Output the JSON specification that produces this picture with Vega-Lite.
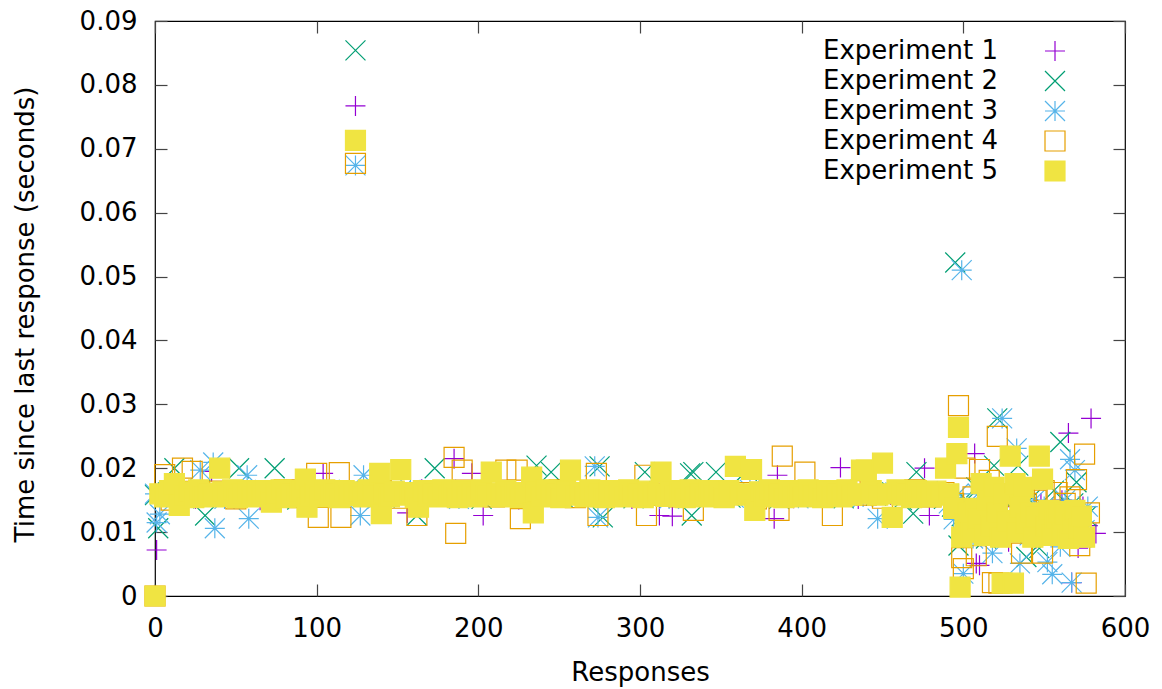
{
"$schema": "https://vega.github.io/schema/vega-lite/v6.json",
"width": 970, "height": 575,
"autosize": {"type": "none"},
"padding": {"left": 155, "top": 21, "right": 37, "bottom": 93},
"background": "white",
"config": {
 "font": "DejaVu Sans",
 "view": {"stroke": "#000", "strokeWidth": 1.2},
 "axis": {"labelFont": "DejaVu Sans", "labelFontSize": 26, "labelColor": "#000", "labelFlush": false, "labelOverlap": false, "tickColor": "#444", "tickWidth": 1.2, "tickSize": -12, "domain": false, "grid": false, "titleFont": "DejaVu Sans", "titleFontSize": 26, "titleFontWeight": "normal", "titleColor": "#000"},
 "legend": {"labelFont": "DejaVu Sans"}
},
"data": {"values": [
{"e":1,"x":0,"y":0},{"e":1,"x":1,"y":0.0072},{"e":1,"x":5,"y":0.0158},{"e":1,"x":15,"y":0.0163},{"e":1,"x":25,"y":0.0152},{"e":1,"x":35,"y":0.0195},{"e":1,"x":45,"y":0.016},{"e":1,"x":55,"y":0.0166},{"e":1,"x":65,"y":0.015},{"e":1,"x":75,"y":0.0161},{"e":1,"x":85,"y":0.0157},{"e":1,"x":95,"y":0.0164},{"e":1,"x":104,"y":0.0192},{"e":1,"x":115,"y":0.0155},{"e":1,"x":124,"y":0.0767},{"e":1,"x":135,"y":0.0162},{"e":1,"x":145,"y":0.0153},{"e":1,"x":156,"y":0.013},{"e":1,"x":165,"y":0.0167},{"e":1,"x":175,"y":0.0159},{"e":1,"x":185,"y":0.0215},{"e":1,"x":196,"y":0.0192},{"e":1,"x":203,"y":0.0126},{"e":1,"x":215,"y":0.0163},{"e":1,"x":225,"y":0.0151},{"e":1,"x":235,"y":0.016},{"e":1,"x":245,"y":0.0166},{"e":1,"x":255,"y":0.0154},{"e":1,"x":265,"y":0.0161},{"e":1,"x":275,"y":0.0157},{"e":1,"x":285,"y":0.0165},{"e":1,"x":295,"y":0.0152},{"e":1,"x":305,"y":0.016},{"e":1,"x":312,"y":0.0126},{"e":1,"x":320,"y":0.0125},{"e":1,"x":335,"y":0.0164},{"e":1,"x":345,"y":0.0155},{"e":1,"x":355,"y":0.0161},{"e":1,"x":365,"y":0.0158},{"e":1,"x":375,"y":0.0166},{"e":1,"x":383,"y":0.0121},{"e":1,"x":385,"y":0.0189},{"e":1,"x":395,"y":0.0153},{"e":1,"x":405,"y":0.0162},{"e":1,"x":415,"y":0.0157},{"e":1,"x":424,"y":0.0201},{"e":1,"x":435,"y":0.0152},{"e":1,"x":445,"y":0.0163},{"e":1,"x":455,"y":0.0158},{"e":1,"x":465,"y":0.0166},{"e":1,"x":476,"y":0.02},{"e":1,"x":479,"y":0.0126},{"e":1,"x":485,"y":0.0155},
{"e":1,"x":492,"y":0.015},{"e":1,"x":496,"y":0.014},{"e":1,"x":500,"y":0.012},{"e":1,"x":503,"y":0.01},{"e":1,"x":505,"y":0.0135},{"e":1,"x":507,"y":0.0223},{"e":1,"x":508,"y":0.0051},{"e":1,"x":510,"y":0.0048},{"e":1,"x":512,"y":0.011},{"e":1,"x":515,"y":0.013},{"e":1,"x":518,"y":0.0095},{"e":1,"x":521,"y":0.015},{"e":1,"x":525,"y":0.012},{"e":1,"x":528,"y":0.0085},{"e":1,"x":531,"y":0.014},{"e":1,"x":535,"y":0.0105},{"e":1,"x":538,"y":0.016},{"e":1,"x":542,"y":0.0125},{"e":1,"x":545,"y":0.009},{"e":1,"x":548,"y":0.0145},{"e":1,"x":551,"y":0.0115},{"e":1,"x":555,"y":0.0135},{"e":1,"x":558,"y":0.01},{"e":1,"x":561,"y":0.015},{"e":1,"x":565,"y":0.0255},{"e":1,"x":567,"y":0.0021},{"e":1,"x":569,"y":0.012},{"e":1,"x":571,"y":0.0075},{"e":1,"x":574,"y":0.014},{"e":1,"x":577,"y":0.011},{"e":1,"x":579,"y":0.0278},{"e":1,"x":582,"y":0.0098},
{"e":2,"x":0,"y":0.0158},{"e":2,"x":2,"y":0.0106},{"e":2,"x":8,"y":0.0162},{"e":2,"x":12,"y":0.02},{"e":2,"x":18,"y":0.0153},{"e":2,"x":28,"y":0.0166},{"e":2,"x":31,"y":0.0126},{"e":2,"x":38,"y":0.0158},{"e":2,"x":48,"y":0.0161},{"e":2,"x":52,"y":0.02},{"e":2,"x":62,"y":0.0155},{"e":2,"x":74,"y":0.02},{"e":2,"x":78,"y":0.0163},{"e":2,"x":88,"y":0.0151},{"e":2,"x":98,"y":0.016},{"e":2,"x":108,"y":0.0166},{"e":2,"x":118,"y":0.0157},{"e":2,"x":124,"y":0.0854},{"e":2,"x":132,"y":0.0162},{"e":2,"x":142,"y":0.0154},{"e":2,"x":152,"y":0.0164},{"e":2,"x":162,"y":0.0126},{"e":2,"x":173,"y":0.02},{"e":2,"x":182,"y":0.0158},{"e":2,"x":192,"y":0.0166},{"e":2,"x":202,"y":0.0152},{"e":2,"x":212,"y":0.0161},{"e":2,"x":222,"y":0.0157},{"e":2,"x":236,"y":0.0204},{"e":2,"x":245,"y":0.0194},{"e":2,"x":252,"y":0.0155},{"e":2,"x":262,"y":0.0162},{"e":2,"x":275,"y":0.0203},{"e":2,"x":277,"y":0.0123},{"e":2,"x":288,"y":0.016},{"e":2,"x":296,"y":0.0153},{"e":2,"x":303,"y":0.0194},{"e":2,"x":312,"y":0.0164},{"e":2,"x":322,"y":0.0158},{"e":2,"x":331,"y":0.0192},{"e":2,"x":332,"y":0.0126},{"e":2,"x":333,"y":0.0194},{"e":2,"x":347,"y":0.0194},{"e":2,"x":356,"y":0.0154},{"e":2,"x":366,"y":0.0196},{"e":2,"x":376,"y":0.016},{"e":2,"x":386,"y":0.0152},{"e":2,"x":396,"y":0.0165},{"e":2,"x":406,"y":0.0158},{"e":2,"x":416,"y":0.0161},{"e":2,"x":426,"y":0.0153},{"e":2,"x":436,"y":0.0166},{"e":2,"x":446,"y":0.0157},{"e":2,"x":456,"y":0.0162},{"e":2,"x":462,"y":0.015},{"e":2,"x":469,"y":0.0129},{"e":2,"x":471,"y":0.0194},{"e":2,"x":482,"y":0.016},{"e":2,"x":488,"y":0.0152},
{"e":2,"x":493,"y":0.014},{"e":2,"x":495,"y":0.0522},{"e":2,"x":497,"y":0.0079},{"e":2,"x":499,"y":0.0125},{"e":2,"x":502,"y":0.015},{"e":2,"x":505,"y":0.0105},{"e":2,"x":508,"y":0.017},{"e":2,"x":511,"y":0.0135},{"e":2,"x":514,"y":0.009},{"e":2,"x":516,"y":0.0155},{"e":2,"x":519,"y":0.0204},{"e":2,"x":521,"y":0.0278},{"e":2,"x":524,"y":0.0115},{"e":2,"x":527,"y":0.0145},{"e":2,"x":530,"y":0.0098},{"e":2,"x":534,"y":0.0204},{"e":2,"x":536,"y":0.013},{"e":2,"x":539,"y":0.0061},{"e":2,"x":541,"y":0.015},{"e":2,"x":544,"y":0.011},{"e":2,"x":547,"y":0.0075},{"e":2,"x":550,"y":0.014},{"e":2,"x":553,"y":0.012},{"e":2,"x":556,"y":0.0165},{"e":2,"x":560,"y":0.0241},{"e":2,"x":563,"y":0.0105},{"e":2,"x":566,"y":0.0135},{"e":2,"x":568,"y":0.0145},{"e":2,"x":570,"y":0.0178},{"e":2,"x":573,"y":0.0092},{"e":2,"x":576,"y":0.0125},
{"e":3,"x":0,"y":0.016},{"e":3,"x":1,"y":0.0115},{"e":3,"x":3,"y":0.0128},{"e":3,"x":13,"y":0.0157},{"e":3,"x":23,"y":0.0164},{"e":3,"x":28,"y":0.0197},{"e":3,"x":36,"y":0.0209},{"e":3,"x":37,"y":0.0106},{"e":3,"x":43,"y":0.0152},{"e":3,"x":53,"y":0.0161},{"e":3,"x":57,"y":0.0189},{"e":3,"x":58,"y":0.0121},{"e":3,"x":68,"y":0.0166},{"e":3,"x":83,"y":0.0155},{"e":3,"x":93,"y":0.0162},{"e":3,"x":103,"y":0.0157},{"e":3,"x":113,"y":0.0165},{"e":3,"x":124,"y":0.0674},{"e":3,"x":127,"y":0.0126},{"e":3,"x":129,"y":0.0189},{"e":3,"x":138,"y":0.0153},{"e":3,"x":148,"y":0.016},{"e":3,"x":158,"y":0.0166},{"e":3,"x":168,"y":0.0156},{"e":3,"x":178,"y":0.0162},{"e":3,"x":188,"y":0.0152},{"e":3,"x":198,"y":0.0164},{"e":3,"x":208,"y":0.0158},{"e":3,"x":218,"y":0.0161},{"e":3,"x":228,"y":0.0153},{"e":3,"x":238,"y":0.0166},{"e":3,"x":248,"y":0.0157},{"e":3,"x":258,"y":0.016},{"e":3,"x":268,"y":0.0155},{"e":3,"x":272,"y":0.0203},{"e":3,"x":274,"y":0.0123},{"e":3,"x":283,"y":0.0163},{"e":3,"x":293,"y":0.0156},{"e":3,"x":308,"y":0.0161},{"e":3,"x":318,"y":0.0152},{"e":3,"x":328,"y":0.0165},{"e":3,"x":338,"y":0.0158},{"e":3,"x":348,"y":0.016},{"e":3,"x":358,"y":0.0154},{"e":3,"x":368,"y":0.0166},{"e":3,"x":378,"y":0.0157},{"e":3,"x":388,"y":0.0162},{"e":3,"x":398,"y":0.0153},{"e":3,"x":408,"y":0.0161},{"e":3,"x":418,"y":0.0158},{"e":3,"x":428,"y":0.0165},{"e":3,"x":438,"y":0.0155},{"e":3,"x":447,"y":0.0121},{"e":3,"x":458,"y":0.0162},{"e":3,"x":468,"y":0.0156},{"e":3,"x":478,"y":0.0164},{"e":3,"x":486,"y":0.0158},
{"e":3,"x":491,"y":0.0145},{"e":3,"x":494,"y":0.012},{"e":3,"x":497,"y":0.016},{"e":3,"x":499,"y":0.051},{"e":3,"x":500,"y":0.0035},{"e":3,"x":503,"y":0.014},{"e":3,"x":506,"y":0.009},{"e":3,"x":509,"y":0.016},{"e":3,"x":512,"y":0.0125},{"e":3,"x":515,"y":0.0105},{"e":3,"x":518,"y":0.0067},{"e":3,"x":521,"y":0.0145},{"e":3,"x":524,"y":0.0278},{"e":3,"x":527,"y":0.013},{"e":3,"x":530,"y":0.016},{"e":3,"x":533,"y":0.0231},{"e":3,"x":535,"y":0.0051},{"e":3,"x":538,"y":0.012},{"e":3,"x":541,"y":0.0095},{"e":3,"x":544,"y":0.015},{"e":3,"x":547,"y":0.011},{"e":3,"x":550,"y":0.014},{"e":3,"x":552,"y":0.0053},{"e":3,"x":555,"y":0.0034},{"e":3,"x":557,"y":0.0125},{"e":3,"x":560,"y":0.0077},{"e":3,"x":563,"y":0.015},{"e":3,"x":566,"y":0.0214},{"e":3,"x":567,"y":0.0021},{"e":3,"x":569,"y":0.0197},{"e":3,"x":572,"y":0.011},{"e":3,"x":575,"y":0.0103},{"e":3,"x":577,"y":0.014},
{"e":4,"x":0,"y":0},{"e":4,"x":6,"y":0.019},{"e":4,"x":10,"y":0.015},{"e":4,"x":17,"y":0.02},{"e":4,"x":23,"y":0.0195},{"e":4,"x":30,"y":0.0157},{"e":4,"x":40,"y":0.0164},{"e":4,"x":50,"y":0.0152},{"e":4,"x":60,"y":0.0161},{"e":4,"x":70,"y":0.0158},{"e":4,"x":80,"y":0.0166},{"e":4,"x":90,"y":0.0154},{"e":4,"x":100,"y":0.0192},{"e":4,"x":101,"y":0.0123},{"e":4,"x":110,"y":0.016},{"e":4,"x":114,"y":0.0193},{"e":4,"x":115,"y":0.0123},{"e":4,"x":124,"y":0.0677},{"e":4,"x":130,"y":0.0157},{"e":4,"x":140,"y":0.0165},{"e":4,"x":150,"y":0.0153},{"e":4,"x":162,"y":0.0126},{"e":4,"x":170,"y":0.0161},{"e":4,"x":180,"y":0.0158},{"e":4,"x":185,"y":0.0217},{"e":4,"x":186,"y":0.0098},{"e":4,"x":190,"y":0.0197},{"e":4,"x":200,"y":0.0163},{"e":4,"x":210,"y":0.0155},{"e":4,"x":217,"y":0.0197},{"e":4,"x":224,"y":0.0197},{"e":4,"x":226,"y":0.0121},{"e":4,"x":240,"y":0.016},{"e":4,"x":250,"y":0.0166},{"e":4,"x":260,"y":0.0154},{"e":4,"x":273,"y":0.0192},{"e":4,"x":274,"y":0.0126},{"e":4,"x":280,"y":0.0162},{"e":4,"x":290,"y":0.0157},{"e":4,"x":303,"y":0.0189},{"e":4,"x":304,"y":0.0126},{"e":4,"x":315,"y":0.0161},{"e":4,"x":324,"y":0.0155},{"e":4,"x":333,"y":0.0134},{"e":4,"x":342,"y":0.0165},{"e":4,"x":352,"y":0.0157},{"e":4,"x":362,"y":0.0162},{"e":4,"x":372,"y":0.0152},{"e":4,"x":386,"y":0.0134},{"e":4,"x":388,"y":0.0219},{"e":4,"x":395,"y":0.0163},{"e":4,"x":402,"y":0.0194},{"e":4,"x":410,"y":0.0156},{"e":4,"x":419,"y":0.0126},{"e":4,"x":430,"y":0.0165},{"e":4,"x":440,"y":0.0158},{"e":4,"x":450,"y":0.0153},{"e":4,"x":460,"y":0.0161},{"e":4,"x":470,"y":0.0166},{"e":4,"x":480,"y":0.0155},{"e":4,"x":488,"y":0.0162},
{"e":4,"x":494,"y":0.0145},{"e":4,"x":497,"y":0.0298},{"e":4,"x":499,"y":0.006},{"e":4,"x":500,"y":0.0043},{"e":4,"x":501,"y":0.02},{"e":4,"x":504,"y":0.013},{"e":4,"x":506,"y":0.0155},{"e":4,"x":508,"y":0.0063},{"e":4,"x":510,"y":0.0198},{"e":4,"x":513,"y":0.012},{"e":4,"x":516,"y":0.0181},{"e":4,"x":518,"y":0.0021},{"e":4,"x":521,"y":0.025},{"e":4,"x":522,"y":0.002},{"e":4,"x":525,"y":0.014},{"e":4,"x":528,"y":0.0105},{"e":4,"x":531,"y":0.016},{"e":4,"x":533,"y":0.0125},{"e":4,"x":536,"y":0.0067},{"e":4,"x":539,"y":0.0145},{"e":4,"x":542,"y":0.0115},{"e":4,"x":545,"y":0.015},{"e":4,"x":549,"y":0.0067},{"e":4,"x":550,"y":0.0165},{"e":4,"x":553,"y":0.013},{"e":4,"x":555,"y":0.01},{"e":4,"x":558,"y":0.0162},{"e":4,"x":561,"y":0.012},{"e":4,"x":563,"y":0.0145},{"e":4,"x":566,"y":0.0155},{"e":4,"x":568,"y":0.0105},{"e":4,"x":570,"y":0.0182},{"e":4,"x":572,"y":0.0079},{"e":4,"x":575,"y":0.0222},{"e":4,"x":576,"y":0.002},{"e":4,"x":578,"y":0.013},
{"e":5,"x":0,"y":0},{"e":5,"x":3,"y":0.016},{"e":5,"x":6,"y":0.0155},{"e":5,"x":9,"y":0.0165},{"e":5,"x":12,"y":0.0176},{"e":5,"x":15,"y":0.0142},{"e":5,"x":18,"y":0.0158},{"e":5,"x":21,"y":0.0163},{"e":5,"x":24,"y":0.0154},{"e":5,"x":27,"y":0.0166},{"e":5,"x":30,"y":0.0157},{"e":5,"x":33,"y":0.0161},{"e":5,"x":36,"y":0.0155},{"e":5,"x":40,"y":0.02},{"e":5,"x":42,"y":0.0163},{"e":5,"x":45,"y":0.0156},{"e":5,"x":48,"y":0.0166},{"e":5,"x":51,"y":0.0154},{"e":5,"x":54,"y":0.016},{"e":5,"x":57,"y":0.0165},{"e":5,"x":60,"y":0.0155},{"e":5,"x":63,"y":0.0162},{"e":5,"x":66,"y":0.0158},{"e":5,"x":69,"y":0.0165},{"e":5,"x":72,"y":0.0147},{"e":5,"x":75,"y":0.016},{"e":5,"x":78,"y":0.0166},{"e":5,"x":81,"y":0.0154},{"e":5,"x":84,"y":0.0161},{"e":5,"x":87,"y":0.0156},{"e":5,"x":90,"y":0.0165},{"e":5,"x":93,"y":0.0183},{"e":5,"x":94,"y":0.0139},{"e":5,"x":96,"y":0.0157},{"e":5,"x":99,"y":0.0162},{"e":5,"x":102,"y":0.0155},{"e":5,"x":105,"y":0.0166},{"e":5,"x":108,"y":0.0158},{"e":5,"x":111,"y":0.0161},{"e":5,"x":114,"y":0.0154},{"e":5,"x":117,"y":0.0165},{"e":5,"x":120,"y":0.0157},{"e":5,"x":123,"y":0.016},{"e":5,"x":124,"y":0.0713},{"e":5,"x":126,"y":0.0163},{"e":5,"x":129,"y":0.0155},{"e":5,"x":132,"y":0.0166},{"e":5,"x":135,"y":0.0158},{"e":5,"x":139,"y":0.0192},{"e":5,"x":140,"y":0.0129},{"e":5,"x":142,"y":0.0161},{"e":5,"x":145,"y":0.0155},{"e":5,"x":148,"y":0.0164},{"e":5,"x":152,"y":0.0198},{"e":5,"x":155,"y":0.0158},{"e":5,"x":158,"y":0.0162},{"e":5,"x":161,"y":0.0154},{"e":5,"x":163,"y":0.0139},{"e":5,"x":166,"y":0.0165},{"e":5,"x":169,"y":0.0157},{"e":5,"x":172,"y":0.0161},{"e":5,"x":175,"y":0.0155},{"e":5,"x":178,"y":0.0166},{"e":5,"x":181,"y":0.0158},{"e":5,"x":184,"y":0.0162},{"e":5,"x":187,"y":0.0154},{"e":5,"x":190,"y":0.0165},{"e":5,"x":193,"y":0.0157},{"e":5,"x":196,"y":0.016},{"e":5,"x":199,"y":0.0155},{"e":5,"x":202,"y":0.0166},{"e":5,"x":205,"y":0.0158},{"e":5,"x":208,"y":0.0194},{"e":5,"x":211,"y":0.0161},{"e":5,"x":214,"y":0.0155},{"e":5,"x":217,"y":0.0165},{"e":5,"x":220,"y":0.0157},{"e":5,"x":223,"y":0.0162},{"e":5,"x":226,"y":0.0154},{"e":5,"x":229,"y":0.016},{"e":5,"x":233,"y":0.0186},{"e":5,"x":234,"y":0.013},{"e":5,"x":236,"y":0.0163},{"e":5,"x":239,"y":0.0155},{"e":5,"x":242,"y":0.0166},{"e":5,"x":245,"y":0.0158},{"e":5,"x":248,"y":0.0161},{"e":5,"x":251,"y":0.0154},{"e":5,"x":254,"y":0.0165},{"e":5,"x":257,"y":0.0197},{"e":5,"x":260,"y":0.0158},{"e":5,"x":263,"y":0.0162},{"e":5,"x":266,"y":0.0155},{"e":5,"x":269,"y":0.0166},{"e":5,"x":272,"y":0.0157},{"e":5,"x":275,"y":0.016},{"e":5,"x":278,"y":0.0154},{"e":5,"x":281,"y":0.0165},{"e":5,"x":284,"y":0.0158},{"e":5,"x":287,"y":0.0162},{"e":5,"x":290,"y":0.0155},{"e":5,"x":293,"y":0.0166},{"e":5,"x":296,"y":0.0157},{"e":5,"x":299,"y":0.0161},{"e":5,"x":302,"y":0.0154},{"e":5,"x":305,"y":0.0164},{"e":5,"x":308,"y":0.0158},{"e":5,"x":311,"y":0.016},{"e":5,"x":313,"y":0.0194},{"e":5,"x":316,"y":0.0156},{"e":5,"x":319,"y":0.0165},{"e":5,"x":322,"y":0.0158},{"e":5,"x":325,"y":0.0162},{"e":5,"x":328,"y":0.0154},{"e":5,"x":331,"y":0.0166},{"e":5,"x":334,"y":0.0157},{"e":5,"x":337,"y":0.016},{"e":5,"x":340,"y":0.0155},{"e":5,"x":343,"y":0.0165},{"e":5,"x":346,"y":0.0158},{"e":5,"x":349,"y":0.0162},{"e":5,"x":352,"y":0.0154},{"e":5,"x":355,"y":0.0165},{"e":5,"x":359,"y":0.0203},{"e":5,"x":362,"y":0.0158},{"e":5,"x":366,"y":0.016},{"e":5,"x":369,"y":0.0198},{"e":5,"x":371,"y":0.0134},{"e":5,"x":374,"y":0.0163},{"e":5,"x":377,"y":0.0155},{"e":5,"x":380,"y":0.0166},{"e":5,"x":383,"y":0.0158},{"e":5,"x":386,"y":0.0161},{"e":5,"x":389,"y":0.0154},{"e":5,"x":392,"y":0.0165},{"e":5,"x":395,"y":0.0157},{"e":5,"x":398,"y":0.016},{"e":5,"x":401,"y":0.0155},{"e":5,"x":404,"y":0.0166},{"e":5,"x":407,"y":0.0158},{"e":5,"x":410,"y":0.0162},{"e":5,"x":413,"y":0.0154},{"e":5,"x":416,"y":0.0165},{"e":5,"x":419,"y":0.0157},{"e":5,"x":422,"y":0.0161},{"e":5,"x":425,"y":0.0155},{"e":5,"x":428,"y":0.0166},{"e":5,"x":431,"y":0.0158},{"e":5,"x":434,"y":0.016},{"e":5,"x":437,"y":0.0197},{"e":5,"x":440,"y":0.0197},{"e":5,"x":443,"y":0.0165},{"e":5,"x":447,"y":0.0158},{"e":5,"x":450,"y":0.0208},{"e":5,"x":453,"y":0.016},{"e":5,"x":456,"y":0.0123},{"e":5,"x":459,"y":0.0166},{"e":5,"x":462,"y":0.0158},{"e":5,"x":465,"y":0.0161},{"e":5,"x":468,"y":0.0154},{"e":5,"x":471,"y":0.0165},{"e":5,"x":474,"y":0.0157},{"e":5,"x":477,"y":0.016},{"e":5,"x":480,"y":0.0155},{"e":5,"x":483,"y":0.0164},{"e":5,"x":486,"y":0.0158},{"e":5,"x":489,"y":0.02},{"e":5,"x":491,"y":0.016},{"e":5,"x":494,"y":0.0137},{"e":5,"x":496,"y":0.0223},{"e":5,"x":497,"y":0.0264},{"e":5,"x":498,"y":0.0014},{"e":5,"x":499,"y":0.0092},{"e":5,"x":501,"y":0.0115},{"e":5,"x":503,"y":0.013},{"e":5,"x":505,"y":0.01},{"e":5,"x":507,"y":0.0137},{"e":5,"x":509,"y":0.012},{"e":5,"x":511,"y":0.0176},{"e":5,"x":513,"y":0.0095},{"e":5,"x":515,"y":0.015},{"e":5,"x":517,"y":0.011},{"e":5,"x":519,"y":0.017},{"e":5,"x":521,"y":0.013},{"e":5,"x":523,"y":0.0092},{"e":5,"x":524,"y":0.002},{"e":5,"x":525,"y":0.016},{"e":5,"x":527,"y":0.0118},{"e":5,"x":529,"y":0.0219},{"e":5,"x":531,"y":0.002},{"e":5,"x":532,"y":0.0176},{"e":5,"x":533,"y":0.01},{"e":5,"x":535,"y":0.014},{"e":5,"x":537,"y":0.017},{"e":5,"x":539,"y":0.0115},{"e":5,"x":541,"y":0.013},{"e":5,"x":543,"y":0.0092},{"e":5,"x":545,"y":0.0125},{"e":5,"x":547,"y":0.0219},{"e":5,"x":549,"y":0.0183},{"e":5,"x":551,"y":0.011},{"e":5,"x":553,"y":0.0134},{"e":5,"x":555,"y":0.0095},{"e":5,"x":557,"y":0.012},{"e":5,"x":559,"y":0.0132},{"e":5,"x":561,"y":0.01},{"e":5,"x":563,"y":0.0128},{"e":5,"x":565,"y":0.009},{"e":5,"x":567,"y":0.0115},{"e":5,"x":569,"y":0.0134},{"e":5,"x":571,"y":0.0105},{"e":5,"x":573,"y":0.0125},{"e":5,"x":575,"y":0.0092}
]},
"layer": [
 {
  "mark": {"type": "point", "opacity": 1, "strokeWidth": 1.2, "size": 400},
  "encoding": {
   "x": {"field": "x", "type": "quantitative", "scale": {"domain": [0, 600], "nice": false, "zero": false},
     "axis": {"orient": "bottom", "values": [0, 100, 200, 300, 400, 500, 600], "title": "Responses", "labelPadding": 31, "titleX": 485, "titleY": 76, "titleBaseline": "middle", "titleAnchor": "middle", "titleAlign": "center"}},
   "y": {"field": "y", "type": "quantitative", "scale": {"domain": [0, 0.09], "nice": false, "zero": false},
     "axis": {"orient": "left", "values": [0, 0.01, 0.02, 0.03, 0.04, 0.05, 0.06, 0.07, 0.08, 0.09], "format": "~g", "title": "Time since last response (seconds)", "labelPadding": 30, "titleX": -130, "titleY": 293, "titleAngle": -90, "titleBaseline": "middle", "titleAlign": "center", "titleAnchor": "middle"}},
   "shape": {"field": "e", "type": "nominal", "scale": {"domain": [1, 2, 3, 4, 5], "range": ["M-1,0H1M0,-1V1", "M-1,-1L1,1M-1,1L1,-1", "M-1,0H1M0,-1V1M-1,-1L1,1M-1,1L1,-1", "square", "square"]},
     "legend": {"title": null, "orient": "none", "legendX": 887, "legendY": 17, "labelExpr": "'Experiment ' + datum.label", "labelFontSize": 26, "labelColor": "#000", "labelAlign": "right", "labelOffset": -70, "labelLimit": 400, "symbolSize": 400, "symbolStrokeWidth": 1.2, "rowPadding": 4, "padding": 0}},
   "stroke": {"field": "e", "type": "nominal", "scale": {"domain": [1, 2, 3, 4, 5], "range": ["#9400d3", "#009e73", "#56b4e9", "#e69f00", "#f0e442"]},
     "legend": {"title": null, "orient": "none", "legendX": 887, "legendY": 17, "labelExpr": "'Experiment ' + datum.label", "labelFontSize": 26, "labelColor": "#000", "labelAlign": "right", "labelOffset": -70, "labelLimit": 400, "symbolSize": 400, "symbolStrokeWidth": 1.2, "rowPadding": 4, "padding": 0}},
   "fill": {"field": "e", "type": "nominal", "scale": {"domain": [1, 2, 3, 4, 5], "range": ["transparent", "transparent", "transparent", "transparent", "#f0e442"]},
     "legend": {"title": null, "orient": "none", "legendX": 887, "legendY": 17, "labelExpr": "'Experiment ' + datum.label", "labelFontSize": 26, "labelColor": "#000", "labelAlign": "right", "labelOffset": -70, "labelLimit": 400, "symbolSize": 400, "symbolStrokeWidth": 1.2, "rowPadding": 4, "padding": 0}}
  }
 },
 {
  "transform": [{"filter": "datum.e == 5 && datum.x == 0"}],
  "mark": {"type": "point", "opacity": 0},
  "encoding": {
   "x": {"field": "x", "type": "quantitative", "axis": {"orient": "top", "values": [0, 100, 200, 300, 400, 500, 600], "labels": false, "title": null}},
   "y": {"field": "y", "type": "quantitative", "axis": {"orient": "right", "values": [0, 0.01, 0.02, 0.03, 0.04, 0.05, 0.06, 0.07, 0.08, 0.09], "labels": false, "title": null}}
  }
 }
],
"resolve": {"axis": {"x": "independent", "y": "independent"}}
}
